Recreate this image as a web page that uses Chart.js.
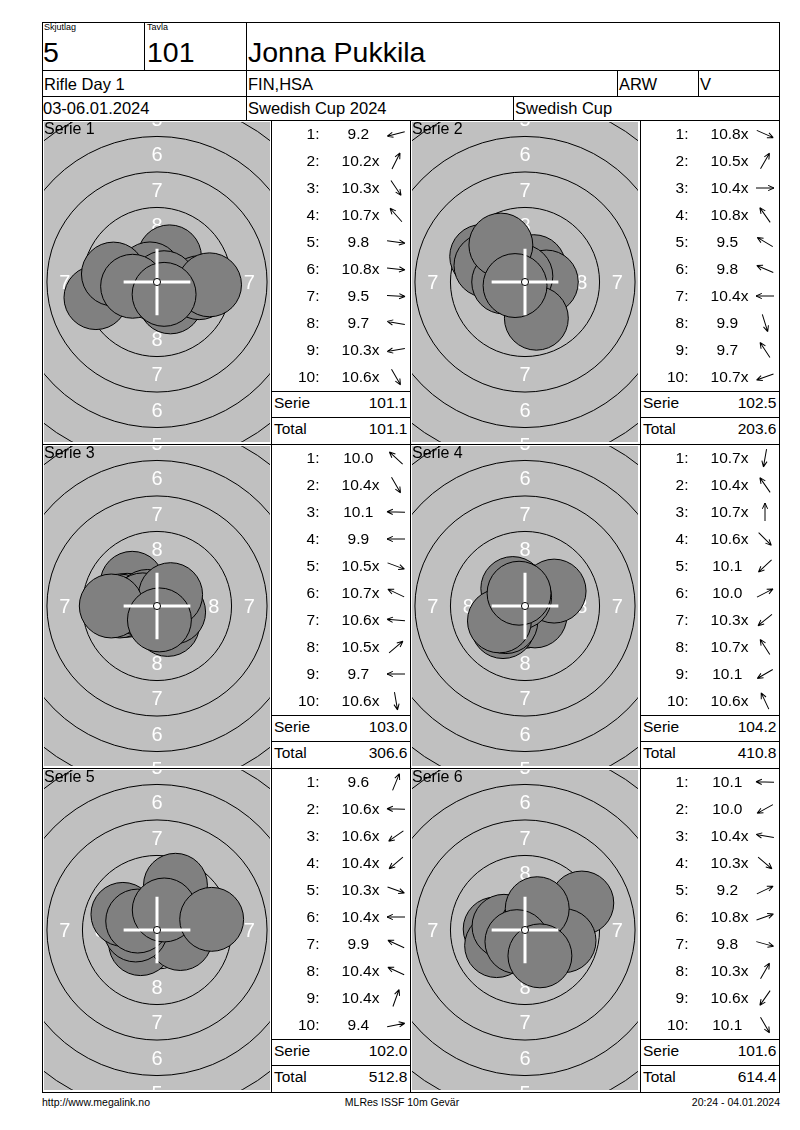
<!DOCTYPE html>
<html>
<head>
<meta charset="utf-8">
<title>Jonna Pukkila</title>
<script src="https://cdn.jsdelivr.net/npm/chart.js"></script>
<style>
body { margin: 0; background: #fff; font-family: "Liberation Sans", Arial, sans-serif; color: #000; }
#page { position: relative; width: 800px; height: 1130px; overflow: hidden; }
.ln { position: absolute; background: #000; }
.tx { position: absolute; white-space: pre; }
canvas { position: absolute; }
</style>
</head>
<body>
<div id="page"></div>
<script>
// header info
const squad = '5';
const lane = '101';
const shooterName = 'Jonna Pukkila';
const eventName = 'Rifle Day 1';
const club = 'FIN,HSA';
const classCode = 'ARW';
const category = 'V';
const dates = '03-06.01.2024';
const competition = 'Swedish Cup 2024';
const cupName = 'Swedish Cup';

// shots in mm from the centre (x to the right, y up), scores as printed
const shotX1 = [-4.3, 0.88, 0.95, -0.5, 2.97, 0.5, 3.7, -3.07, -1.72, 0.5];
const shotY1 = [-1.1, 1.77, -1.4, 0.57, -0.4, -0.05, -0.2, 0.56, -0.3, -0.87];
const scores1 = ['9.2', '10.2x', '10.3x', '10.7x', '9.8', '10.8x', '9.5', '9.7', '10.3x', '10.6x'];

const shotX2 = [0.45, 0.62, 1.5, -0.29, -3.05, -2.75, -1.5, 0.8, -1.7, -0.7];
const shotY2 = [-0.2, 1.08, 0, 0.41, 1.8, 1.17, 0, -2.55, 2.6, -0.25];
const scores2 = ['10.8x', '10.5x', '10.4x', '10.8x', '9.5', '9.8', '10.4x', '9.9', '9.7', '10.7x'];

const shotX3 = [-1.75, 0.75, -2.1, -2.62, 1.17, -0.68, -1.0, 0.96, -3.22, 0.17];
const shotY3 = [1.6, -1.3, 0.05, 0, -0.43, 0.32, 0.08, 0.8, 0, -0.98];
const scores3 = ['10.0', '10.4x', '10.1', '9.9', '10.5x', '10.7x', '10.6x', '10.5x', '9.7', '10.6x'];

const shotX4 = [-0.13, -0.86, 0, 0.7, -1.55, 2.05, -1.35, -0.38, -1.8, -0.42];
const shotY4 = [-0.74, 1.23, 0.75, -0.7, -1.45, 1.05, -1.1, 0.6, -1.05, 0.9];
const scores4 = ['10.7x', '10.4x', '10.7x', '10.6x', '10.1', '10.0', '10.3x', '10.7x', '10.1', '10.6x'];

const shotX5 = [1.3, -1.0, -0.82, -1.15, 1.64, -1.5, -2.4, -1.36, 0.51, 3.85];
const shotY5 = [3.15, 0.03, -0.57, -0.96, -0.6, 0, 1.1, 0.63, 1.41, 0.75];
const scores5 = ['9.6', '10.6x', '10.6x', '10.4x', '10.3x', '10.4x', '9.9', '10.4x', '10.4x', '9.4'];

const shotX6 = [-2.1, -2.0, -1.48, 1.34, 4.0, 0.47, 2.75, 0.86, -0.57, 1.05];
const shotY6 = [0.07, -1.1, 0.26, -1.12, 1.9, 0.17, -0.75, 1.5, -0.82, -1.82];
const scores6 = ['10.1', '10.0', '10.4x', '10.3x', '9.2', '10.8x', '9.8', '10.3x', '10.6x', '10.1'];

const serieSums = ['101.1', '102.5', '103.0', '104.2', '102.0', '101.6'];
const runningTotals = ['101.1', '203.6', '306.6', '410.8', '512.8', '614.4'];

// target geometry (mm): ring 1 .. ring 9 radius, labels shown in the bands
const ringRadii = [22.75, 20.25, 17.75, 15.25, 12.75, 10.25, 7.75, 5.25, 2.75];
const ringNumbers = [1, 2, 3, 4, 5, 6, 7, 8];
const pelletRadius = 2.25;
const tenDot = 0.25;
const crossHalf = 2.35;
const pxPerMm = 14.2;

const shotsX = [shotX1, shotX2, shotX3, shotX4, shotX5, shotX6];
const shotsY = [shotY1, shotY2, shotY3, shotY4, shotY5, shotY6];
const scores = [scores1, scores2, scores3, scores4, scores5, scores6];

const page = document.getElementById('page');

function line(x, y, w, h) {
    const d = document.createElement('div');
    d.className = 'ln';
    d.style.cssText = `left:${x}px;top:${y}px;width:${w}px;height:${h}px`;
    page.appendChild(d);
}
function hline(x1, x2, y) { line(x1, y, x2 - x1, 1); }
function vline(x, y1, y2) { line(x, y1, 1, y2 - y1); }

// text placed by baseline, x is the left / right / centre point
function text(str, x, baseline, size, align) {
    const d = document.createElement('div');
    d.className = 'tx';
    d.textContent = str;
    d.style.fontSize = size + 'px';
    d.style.lineHeight = size + 'px';
    d.style.top = (baseline - 0.8465 * size) + 'px';
    if (align === 'right') {
        d.style.right = (800 - x) + 'px';
    } else if (align === 'center') {
        d.style.left = (x - 100) + 'px';
        d.style.width = '200px';
        d.style.textAlign = 'center';
    } else {
        d.style.left = x + 'px';
    }
    page.appendChild(d);
}

// small direction arrow pointing where the shot went
function arrow(cx, cy, dx, dy) {
    const deg = -Math.atan2(dy, dx) * 180 / Math.PI;
    const d = document.createElement('div');
    d.style.cssText = `position:absolute;left:${cx - 11}px;top:${cy - 11}px;width:22px;height:22px`;
    d.innerHTML = `<svg width="22" height="22" viewBox="-11 -11 22 22"><g transform="rotate(${deg})" stroke="#000" stroke-width="1" fill="none"><path d="M-9 0H9M9 0L3.2 -2.6M9 0L3.2 2.6"/></g></svg>`;
    page.appendChild(d);
}

// rings, labels, crosshair
const targetPlugin = {
    id: 'target',
    beforeDatasetsDraw(chart) {
        const { ctx, chartArea: a, scales: { x, y } } = chart;
        const cx = x.getPixelForValue(0), cy = y.getPixelForValue(0);
        const k = x.getPixelForValue(1) - cx;
        ctx.save();
        ctx.fillStyle = '#c0c0c0';
        ctx.fillRect(a.left, a.top, a.right - a.left, a.bottom - a.top);
        ctx.strokeStyle = '#000';
        ctx.lineWidth = 1;
        ringRadii.forEach(r => {
            ctx.beginPath();
            ctx.arc(cx, cy, r * k, 0, Math.PI * 2);
            ctx.stroke();
        });
        ctx.fillStyle = '#fff';
        ctx.font = '20px "Liberation Sans", Arial, sans-serif';
        ctx.textAlign = 'center';
        ctx.textBaseline = 'alphabetic';
        const off = 0.358 * 20;
        ringNumbers.forEach((n, i) => {
            const d = (ringRadii[i] + ringRadii[i + 1]) / 2 * k;
            ctx.fillText(String(n), cx, cy - d + off);
            ctx.fillText(String(n), cx, cy + d + off);
            ctx.fillText(String(n), cx - d, cy + off);
            ctx.fillText(String(n), cx + d, cy + off);
        });
        ctx.restore();
    },
    afterDatasetsDraw(chart) {
        const { ctx, scales: { x, y } } = chart;
        const cx = x.getPixelForValue(0), cy = y.getPixelForValue(0);
        const k = x.getPixelForValue(1) - cx;
        ctx.save();
        ctx.strokeStyle = '#fff';
        ctx.lineWidth = 3;
        ctx.beginPath();
        ctx.moveTo(cx - crossHalf * k, cy);
        ctx.lineTo(cx + crossHalf * k, cy);
        ctx.moveTo(cx, cy - crossHalf * k);
        ctx.lineTo(cx, cy + crossHalf * k);
        ctx.stroke();
        ctx.beginPath();
        ctx.arc(cx, cy, tenDot * k, 0, Math.PI * 2);
        ctx.fillStyle = '#fff';
        ctx.fill();
        ctx.lineWidth = 1;
        ctx.strokeStyle = '#000';
        ctx.stroke();
        ctx.restore();
    }
};

function drawTarget(i, left, top, w, h) {
    const canvas = document.createElement('canvas');
    canvas.width = w;
    canvas.height = h;
    canvas.style.left = left + 'px';
    canvas.style.top = top + 'px';
    page.appendChild(canvas);
    const halfW = w / 2 / pxPerMm, halfH = h / 2 / pxPerMm;
    new Chart(canvas, {
        type: 'scatter',
        data: {
            datasets: [{
                data: shotsX[i].map((v, j) => ({ x: v, y: shotsY[i][j] })),
                backgroundColor: '#808080',
                borderColor: '#000',
                borderWidth: 1,
                pointRadius: c => {
                    const s = c.chart.scales.x;
                    return Math.abs(s.getPixelForValue(pelletRadius) - s.getPixelForValue(0));
                },
            }]
        },
        options: {
            responsive: false,
            animation: false,
            events: [],
            layout: { padding: 0, autoPadding: false },
            plugins: { legend: { display: false }, tooltip: { enabled: false } },
            scales: {
                x: { type: 'linear', min: -halfW, max: halfW, display: false },
                y: { type: 'linear', min: -halfH, max: halfH, display: false },
            },
        },
        plugins: [targetPlugin],
    });
}

// header box
hline(42, 780, 22);
hline(42, 780, 70);
hline(42, 780, 96);
vline(144, 22, 70);
vline(246, 22, 120);
vline(617, 70, 96);
vline(698, 70, 96);
vline(513, 96, 120);
text('Skjutlag', 44, 31, 9, 'left');
text('Tavla', 147, 31, 9, 'left');
text(squad, 43, 62, 28.5, 'left');
text(lane, 147, 62, 28.5, 'left');
text(shooterName, 248, 62, 28.5, 'left');
text(eventName, 44, 90, 16.5, 'left');
text(club, 248, 90, 16.5, 'left');
text(classCode, 619, 90, 16.5, 'left');
text(category, 700, 90, 16.5, 'left');
text(dates, 43, 114, 16.5, 'left');
text(competition, 248, 114, 16.5, 'left');
text(cupName, 515, 114, 16.5, 'left');

// series grid
const rowTops = [120, 444, 768];
vline(42, 22, 1093);
vline(779, 22, 1093);
[120, 444, 768, 1092].forEach(y => hline(42, 780, y));
[271, 410, 640].forEach(x => vline(x, 120, 1092));

for (let i = 0; i < 6; i++) {
    const B = rowTops[Math.floor(i / 2)];
    const right = i % 2 === 1;
    const targetLeft = right ? 412 : 44;
    const tableLeft = right ? 641 : 272;
    const tableRight = right ? 779 : 410;

    drawTarget(i, targetLeft, B + 2, 226, 320);
    text('Serie ' + (i + 1), targetLeft, B + 15, 16, 'left');

    for (let j = 0; j < 10; j++) {
        const base = B + 19 + 27 * j;
        const sc = scores[i][j];
        text((j + 1) + ':', tableLeft + 47.5, base, 15.5, 'right');
        text(sc.endsWith('x') ? sc : sc + '\u00a0', tableLeft + 88.5, base, 15.5, 'center');
        arrow(tableLeft + 123.5, base - 5.5, shotsX[i][j], shotsY[i][j]);
    }
    hline(tableLeft, tableRight, B + 271);
    hline(tableLeft, tableRight, B + 297);
    text('Serie', tableLeft + 2, B + 288.5, 15.5, 'left');
    text(serieSums[i], tableRight - 2.5, B + 288.5, 15.5, 'right');
    text('Total', tableLeft + 2, B + 314.5, 15.5, 'left');
    text(runningTotals[i], tableRight - 2.5, B + 314.5, 15.5, 'right');
}

// footer
text('http://www.megalink.no', 42, 1106, 10.5, 'left');
text('MLRes ISSF 10m Gevär', 402, 1106, 10.5, 'center');
text('20:24 - 04.01.2024', 780, 1106, 10.5, 'right');
</script>
</body>
</html>
